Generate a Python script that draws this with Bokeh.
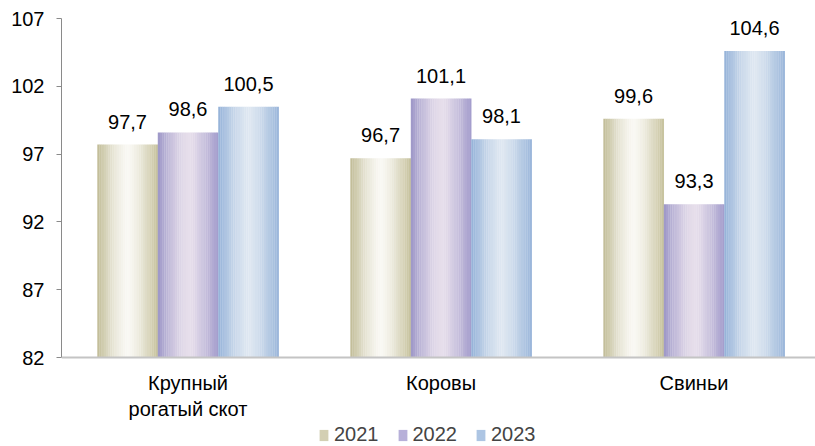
from bokeh.plotting import figure
from bokeh.models import (ColumnDataSource, Range1d, FixedTicker, Legend, LegendItem,
                          LabelSet, Span)
from bokeh.core.properties import value
from bokeh.embed import file_html
from bokeh.resources import INLINE

categories = ["Крупный\nрогатый скот", "Коровы", "Свиньи"]
years = ["2021", "2022", "2023"]
v2021 = [97.7, 96.7, 99.6]
v2022 = [98.6, 101.1, 93.3]
v2023 = [100.5, 98.1, 104.6]
series = [v2021, v2022, v2023]
y_ticks = [82, 87, 92, 97, 102, 107]

FONT = "Liberation Sans"

# gradient styles (left edge, highlight, right edge)
grads = [
    ((0xc0, 0xbb, 0x95), (0xf9, 0xf8, 0xf3), (0xc6, 0xc1, 0x9c)),
    ((0x9c, 0x96, 0xc7), (0xe6, 0xde, 0xeb), (0xa2, 0x9b, 0xcb)),
    ((0x93, 0xb1, 0xd8), (0xde, 0xe7, 0xf1), (0x99, 0xb5, 0xda)),
]
legend_cols = ["#d3cfb3", "#b7b0d9", "#adc5e3"]
N = 28
bar_w = 0.239
ymin, ymax = 82, 107
# plot area extends below the value axis to hold category labels and legend
y_start = ymin - (ymax - ymin) * 89 / 339

p = figure(frame_width=754, frame_height=428, output_backend="svg", toolbar_location=None,
           x_range=Range1d(0, 2.98), y_range=Range1d(y_start, ymax),
           x_axis_location=None,
           min_border_left=61, min_border_top=18, min_border_right=0,
           min_border_bottom=0, outline_line_color=None)
p.xgrid.visible = False
p.ygrid.visible = False


def mix(a, b, t):
    return tuple(int(round(a[k] + (b[k] - a[k]) * t)) for k in range(3))


def grad_color(g, t):
    peak = 0.52
    if t <= peak:
        s = t / peak
        s = 1 - (1 - s) ** 1.6
        c = mix(g[0], g[1], s)
    else:
        s = (t - peak) / (1 - peak)
        s = s ** 1.3
        c = mix(g[1], g[2], s)
    return "#%02x%02x%02x" % c


for si, vals in enumerate(series):
    left, right, top, bottom, color = [], [], [], [], []
    for ci, v in enumerate(vals):
        x0 = ci + 0.5 + (si - 1) * bar_w - bar_w / 2
        for k in range(N):
            t = (k + 0.5) / N
            left.append(x0 + bar_w * k / N)
            right.append(x0 + bar_w * (k + 1) / N + 0.0008)
            top.append(v)
            bottom.append(ymin)
            color.append(grad_color(grads[si], t))
    src = ColumnDataSource(dict(left=left, right=right, top=top, bottom=bottom, color=color))
    p.quad(left="left", right="right", top="top", bottom="bottom", source=src,
           fill_color="color", line_color=None)

    lx = [ci + 0.5 + (si - 1) * bar_w for ci in range(len(vals))]
    lsrc = ColumnDataSource(dict(x=lx, y=vals, t=[("%.1f" % v).replace(".", ",") for v in vals]))
    p.add_layout(LabelSet(x="x", y="y", text="t", source=lsrc, text_align="center",
                          text_baseline="alphabetic", y_offset=16, text_font=value(FONT),
                          text_font_size="20px", text_color="#000000"))

# category axis line and labels (each line centred separately)
p.add_layout(Span(location=ymin, dimension="width", line_color="#c4c4c4", line_width=2))
cx, cy, ct, coff = [], [], [], []
for ci, cat in enumerate(categories):
    for li, line in enumerate(cat.split("\n")):
        cx.append(ci + 0.5)
        cy.append(ymin)
        ct.append(line)
        coff.append(-14 - 26 * li)
csrc = ColumnDataSource(dict(x=cx, y=cy, t=ct, off=coff))
p.add_layout(LabelSet(x="x", y="y", text="t", source=csrc, text_align="center",
                      text_baseline="top", y_offset="off", text_font=value(FONT),
                      text_font_size="20px", text_color="#000000"))

# legend proxies
proxies = []
for si in range(3):
    pr = p.quad(left=[0], right=[0], top=[ymin], bottom=[ymin], fill_color=legend_cols[si],
                line_color=None)
    proxies.append(pr)

# value axis
yax = p.yaxis[0]
yax.ticker = FixedTicker(ticks=y_ticks)
yax.bounds = (ymin, ymax)
yax.major_tick_in = 0
yax.major_tick_out = 5
yax.minor_tick_line_color = None
yax.axis_line_color = "#8a8a8a"
yax.major_tick_line_color = "#8a8a8a"
yax.major_label_text_font = FONT
yax.major_label_text_font_size = "20px"
yax.major_label_text_color = "#000000"
yax.major_label_standoff = 12

legend = Legend(items=[LegendItem(label=years[i], renderers=[proxies[i]]) for i in range(3)],
                orientation="horizontal", location=(257, 0), glyph_width=11, glyph_height=14,
                label_text_font=FONT, label_text_font_size="20px", label_height=14,
                label_standoff=5, spacing=18, padding=0, margin=0,
                border_line_color=None, background_fill_alpha=0)
p.add_layout(legend, "center")

open("out.html", "w").write(file_html(p, INLINE))
